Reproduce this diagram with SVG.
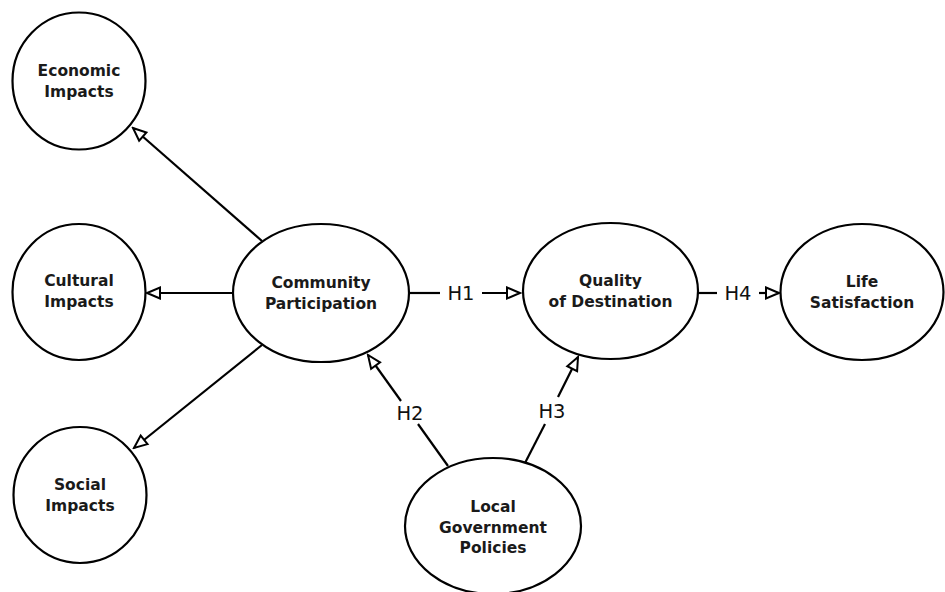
<svg xmlns="http://www.w3.org/2000/svg" width="945" height="592" viewBox="0 0 945 592">
<style>
.node ellipse{fill:#fff;stroke:#000;stroke-width:2.2}
.node text{font-family:"DejaVu Sans",sans-serif;font-weight:bold;font-size:15.5px;text-anchor:middle;fill:#1a1a1a}
.edge line{stroke:#000;stroke-width:2.2}
.lbl{font-family:"DejaVu Sans",sans-serif;font-size:19.5px;text-anchor:middle;fill:#111}
</style>
<defs>
<marker id="arr" markerUnits="userSpaceOnUse" markerWidth="17" markerHeight="15" refX="14" refY="6.5" orient="auto" viewBox="-1 -1 17 15">
<path d="M1,1 L14,6.5 L1,12 Z" fill="#fff" stroke="#000" stroke-width="2"/>
</marker>
</defs>
<rect width="945" height="592" fill="#fff"/>
<g id="connectors" class="edge">
<line x1="262" y1="241" x2="133" y2="128" marker-end="url(#arr)"/>
<line x1="233" y1="293" x2="147" y2="293" marker-end="url(#arr)"/>
<line x1="262" y1="345" x2="134" y2="448" marker-end="url(#arr)"/>
<line x1="409" y1="293" x2="440" y2="293"/>
<line x1="482" y1="293" x2="520" y2="293" marker-end="url(#arr)"/>
<line x1="698" y1="293" x2="717" y2="293"/>
<line x1="759" y1="293" x2="779" y2="293" marker-end="url(#arr)"/>
<line x1="448" y1="466" x2="418" y2="424"/>
<line x1="401" y1="401" x2="368" y2="355" marker-end="url(#arr)"/>
<line x1="525" y1="463" x2="545" y2="424"/>
<line x1="558" y1="397" x2="578" y2="357" marker-end="url(#arr)"/>
<text class="lbl" x="461" y="300">H1</text>
<text class="lbl" x="738" y="300">H4</text>
<text class="lbl" x="410" y="420">H2</text>
<text class="lbl" x="552" y="418">H3</text>
</g>
<g id="economic" class="node"><ellipse cx="79" cy="81" rx="66.5" ry="68.5"/><text x="79" y="76">Economic</text><text x="79" y="97">Impacts</text></g>
<g id="cultural" class="node"><ellipse cx="79" cy="292" rx="66.5" ry="68"/><text x="79" y="286">Cultural</text><text x="79" y="307">Impacts</text></g>
<g id="social" class="node"><ellipse cx="80" cy="495" rx="66.5" ry="68"/><text x="80" y="490">Social</text><text x="80" y="511">Impacts</text></g>
<g id="community" class="node"><ellipse cx="321" cy="293" rx="88" ry="69"/><text x="321" y="288">Community</text><text x="321" y="309">Participation</text></g>
<g id="quality" class="node"><ellipse cx="610.5" cy="291" rx="87.5" ry="68"/><text x="610.5" y="286">Quality</text><text x="610.5" y="307">of Destination</text></g>
<g id="life" class="node"><ellipse cx="862" cy="292" rx="81.5" ry="68"/><text x="862" y="287">Life</text><text x="862" y="308">Satisfaction</text></g>
<g id="local" class="node"><ellipse cx="493" cy="526" rx="88" ry="68"/><text x="493" y="512">Local</text><text x="493" y="533">Government</text><text x="493" y="553">Policies</text></g>
</svg>
